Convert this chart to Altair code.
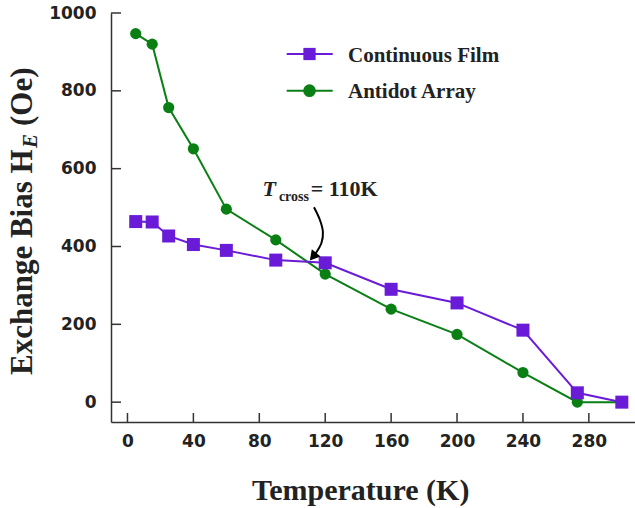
import altair as alt
import pandas as pd

# ---- data ----
temps = [5, 15, 25, 40, 60, 90, 120, 160, 200, 240, 273, 300]
film = [464, 463, 427, 405, 390, 365, 358, 290, 255, 185, 24, 0]
antidot = [947, 920, 757, 651, 496, 417, 329, 239, 174, 76, 0, 0]

x_ticks = [0, 40, 80, 120, 160, 200, 240, 280]
y_ticks = [0, 200, 400, 600, 800, 1000]

series_names = ["Continuous Film", "Antidot Array"]

# annotation (data coordinates)
arrow_t = [113.2, 116.8, 118.6, 117.7, 114.2]
arrow_v = [500.8, 468.1, 437.3, 409.0, 382.3]
head_t = [112.6]
head_v = [374.0]

PURPLE = "#6A1BD8"
GREEN = "#0A7F14"
TXT = "#222222"
AX = "#333333"
SERIF = "Liberation Serif"
SANS = "DejaVu Sans"

film_df = pd.DataFrame({"T": temps, "H": film})
anti_df = pd.DataFrame({"T": temps, "H": antidot})

xs = alt.Scale(domain=[-10, 308], nice=False, zero=False)
ys = alt.Scale(domain=[-51, 1000], nice=False, zero=False)

x_axis = alt.Axis(values=x_ticks, ticks=False, grid=False, title=None, format="d",
                  domainColor=AX, domainWidth=1.5,
                  labelFont=SANS, labelFontWeight="bold", labelFontSize=17,
                  labelColor=TXT, labelPadding=11)
y_axis = alt.Axis(values=y_ticks, ticks=False, grid=False, title=None, format="d",
                  domainColor=AX, domainWidth=1.5,
                  labelFont=SANS, labelFontWeight="bold", labelFontSize=17,
                  labelColor=TXT, labelPadding=15)


def X(f):
    return alt.X(f"{f}:Q", scale=xs, axis=x_axis, title=None)


def Y(f):
    return alt.Y(f"{f}:Q", scale=ys, axis=y_axis, title=None)


anti_line = alt.Chart(anti_df).mark_line(color=GREEN, strokeWidth=2).encode(x=X("T"), y=Y("H"))
anti_pts = alt.Chart(anti_df).mark_point(shape="circle", filled=True, opacity=1,
                                          size=125, color=GREEN).encode(x=X("T"), y=Y("H"))
film_line = alt.Chart(film_df).mark_line(color=PURPLE, strokeWidth=2).encode(x=X("T"), y=Y("H"))
film_pts = alt.Chart(film_df).mark_point(shape="square", filled=True, opacity=1,
                                          size=169, color=PURPLE).encode(x=X("T"), y=Y("H"))

# inward ticks
xt = alt.Chart(pd.DataFrame({"T": x_ticks})).mark_rule(color=AX, strokeWidth=1.5).encode(
    x=X("T"), y=alt.value(400), y2=alt.value(409))
yt = alt.Chart(pd.DataFrame({"H": y_ticks})).mark_rule(color=AX, strokeWidth=1.5).encode(
    y=Y("H"), x=alt.value(0), x2=alt.value(10))

# arrow
arrow_df = pd.DataFrame({"T": arrow_t, "H": arrow_v, "i": list(range(len(arrow_t)))})
arrow = alt.Chart(arrow_df).mark_line(color="black", strokeWidth=2, interpolate="cardinal").encode(
    x=X("T"), y=Y("H"), order=alt.Order("i:Q"))
head = alt.Chart(pd.DataFrame({"T": head_t, "H": head_v})).mark_point(
    shape="triangle-down", filled=True, opacity=1, size=130, angle=40, color="black").encode(
    x=X("T"), y=Y("H"))

# annotation text
ann_T = alt.Chart(pd.DataFrame({"T": [82.0], "H": [529.8], "s": ["T"]})).mark_text(
    font=SERIF, fontSize=22, fontWeight="bold", fontStyle="italic",
    align="left", baseline="alphabetic", color=TXT).encode(x=X("T"), y=Y("H"), text="s:N")
ann_sub = alt.Chart(pd.DataFrame({"T": [91.9], "H": [517.7], "s": ["cross"]})).mark_text(
    font=SERIF, fontSize=14, fontWeight="bold", align="left", baseline="alphabetic", color=TXT).encode(
    x=X("T"), y=Y("H"), text="s:N")
ann_eq = alt.Chart(pd.DataFrame({"T": [111.2], "H": [529.8], "s": ["= 110K"]})).mark_text(
    font=SERIF, fontSize=22, fontWeight="bold", align="left", baseline="alphabetic", color=TXT).encode(
    x=X("T"), y=Y("H"), text="s:N")

# manual legend
one = pd.DataFrame({"a": [0]})
leg = []
for name, col, shape, size, ly in [(series_names[0], PURPLE, "square", 150, 41),
                                    (series_names[1], GREEN, "circle", 160, 77.7)]:
    leg.append(alt.Chart(one).mark_rule(color=col, strokeWidth=2).encode(
        x=alt.value(175.7), x2=alt.value(221.7), y=alt.value(ly)))
    leg.append(alt.Chart(one).mark_point(shape=shape, filled=True, opacity=1, size=size, color=col).encode(
        x=alt.value(198.5), y=alt.value(ly)))
    leg.append(alt.Chart(pd.DataFrame({"s": [name]})).mark_text(
        font=SERIF, fontSize=21, fontWeight="bold", align="left", baseline="alphabetic", color=TXT).encode(
        x=alt.value(237), y=alt.value(ly + 7.7), text="s:N"))

# axis titles
xtitle = alt.Chart(pd.DataFrame({"s": ["Temperature (K)"]})).mark_text(
    font=SERIF, fontSize=30, fontWeight="bold", align="center", baseline="alphabetic", color=TXT).encode(
    x=alt.value(249.7), y=alt.value(486.5), text="s:N")
yt1 = alt.Chart(pd.DataFrame({"s": ["Exchange Bias H"]})).mark_text(
    font=SERIF, fontSize=31, fontWeight="bold", align="left", baseline="alphabetic", angle=270,
    color=TXT).encode(x=alt.value(-79), y=alt.value(362), text="s:N")
yt2 = alt.Chart(pd.DataFrame({"s": ["E"]})).mark_text(
    font=SERIF, fontSize=21, fontWeight="bold", fontStyle="italic", align="left", baseline="alphabetic",
    angle=270, color=TXT).encode(x=alt.value(-74), y=alt.value(135), text="s:N")
yt3 = alt.Chart(pd.DataFrame({"s": ["(Oe)"]})).mark_text(
    font=SERIF, fontSize=31, fontWeight="bold", align="left", baseline="alphabetic", angle=270,
    color=TXT).encode(x=alt.value(-79), y=alt.value(113), text="s:N")

chart = alt.layer(
    anti_line, xt, yt, anti_pts, film_line, film_pts, arrow, head, ann_T, ann_sub, ann_eq,
    *leg, xtitle, yt1, yt2, yt3
).properties(
    width=524, height=409,
    autosize=alt.AutoSizeParams(type="none"),
    padding={"left": 111, "top": 13, "right": 0, "bottom": 86},
).configure_view(stroke=None)

chart.save("out.html", embed_options={"renderer": "svg", "actions": False})
